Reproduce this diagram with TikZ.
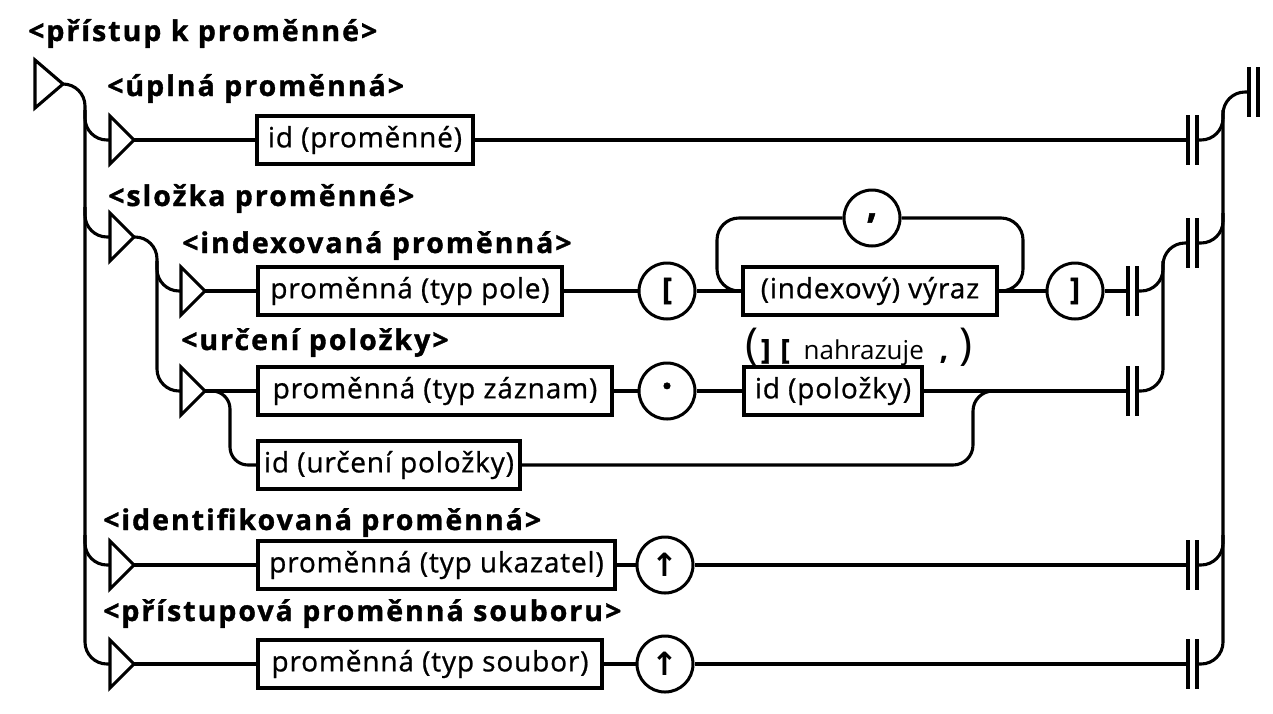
\documentclass[tikz,border=0pt]{standalone}
\usepackage{fontspec}
\setmainfont{Open Sans}
\newfontfamily\hdfont[LetterSpace=7,FakeBold=1.2]{Open Sans}
\newfontfamily\bxfont[LetterSpace=3,FakeBold=0.8]{Open Sans}
\newfontfamily\arrfont{DejaVu Sans}
\newcommand\syntri[4]{%
  \draw[ln, line join=miter] (#2,#3-24) -- (#2+#4,#3) -- (#2,#3+24) -- cycle;
  \coordinate (#1-in) at (#2,#3);
  \coordinate (#1-out) at (#2+#4,#3);}
\newcommand\synbar[3]{%
  \draw[barln] (#2,#3-25) -- (#2,#3+25) (#2+9,#3-25) -- (#2+9,#3+25);
  \coordinate (#1-in) at (#2,#3);
  \coordinate (#1-out) at (#2+9,#3);}
\begin{document}
\begin{tikzpicture}[x=1pt,y=-1pt,
  ln/.style={line width=3.1pt},
  barln/.style={line width=3.2pt},
  rc/.style={ln, rounded corners=22pt},
  hd/.style={font=\hdfont\bfseries\fontsize{28.5}{32}\selectfont, inner sep=0pt, anchor=base west},
  bx/.style={draw, line width=3.2pt, minimum height=48pt, inner sep=1pt, font=\bxfont\fontsize{28}{32}\selectfont},
  term/.style={draw, circle, line width=3pt, minimum size=56pt, inner sep=0pt, font=\hdfont\bfseries\fontsize{30}{34}\selectfont},
]
\useasboundingbox (0,0) rectangle (1273,713);

% labels
\node[hd] (l0) at (28,41) {<přístup k proměnné>};
\node[hd] (l1) at (107,96) {<úplná proměnná>};
\node[hd] (l2) at (108,206) {<složka proměnné>};
\node[hd] (l3) at (182,253) {<indexovaná proměnná>};
\node[hd] (l4) at (181,350) {<určení položky>};
\node[hd] (l5) at (103,530) {<identifikovaná proměnná>};
\node[hd] (l6) at (103,621) {<přístupová proměnná souboru>};

% triangles
\syntri{t0}{35}{84}{28}
\syntri{t1}{110}{140}{24}
\syntri{t2}{110}{237}{24}
\syntri{t3}{181}{291}{24}
\syntri{t4}{181}{391}{24}
\syntri{t5}{110}{565}{24}
\syntri{t6}{110}{664}{24}

% boxes
\node[bx, minimum width=216pt] (b1) at (365,140) {id (proměnné)};
\node[bx, minimum width=304pt] (b3) at (410,291) {proměnná (typ pole)};
\node[bx, minimum width=254pt] (b3b) at (870,291) {(indexový) výraz};
\node[bx, minimum width=354pt] (b4) at (435,391) {proměnná (typ záznam)};
\node[bx, minimum width=178pt] (b4b) at (833,391) {id (položky)};
\node[bx, minimum width=262pt] (b4c) at (389,465) {id (určení položky)};
\node[bx, minimum width=357pt] (b5) at (436.5,565) {proměnná (typ ukazatel)};
\node[bx, minimum width=344pt] (b6) at (430,664) {proměnná (typ soubor)};

% terminals
\node[term] (c3a) at (667,291) {[};
\node[term] (c3b) at (1075,291) {]};
\node[term, font=\hdfont\bfseries\fontsize{38}{40}\selectfont] (c3c) at (872,218) {,};
\node[term, font=\hdfont\bfseries\fontsize{38}{40}\selectfont] (c4) at (667,391) {·};
\node[term, font=\arrfont\bfseries\fontsize{32}{34}\selectfont] (c5) at (665,565) {↑};
\node[term, font=\arrfont\bfseries\fontsize{32}{34}\selectfont] (c6) at (665,664) {↑};

% note
\node[inner sep=0pt] (note) at (859,347) {\fontsize{44}{46}\selectfont(\hspace{3pt}{\hdfont\bfseries\fontsize{28}{30}\selectfont]\hspace{10pt}[}\hspace{14pt}{\fontsize{26}{28}\selectfont nahrazuje}\hspace{16pt}{\bxfont\bfseries\fontsize{28}{30}\selectfont,}\hspace{12pt})};

% bars
\synbar{r1}{1188}{140}
\synbar{r2}{1188}{243}
\synbar{r3}{1128}{291}
\synbar{r4}{1128}{391}
\synbar{r5}{1188}{565}
\synbar{r6}{1188}{664}
\synbar{rf}{1249}{92}

% left side
\draw[rc] (t0-out) -- (85,84) -- (85,664) -- (t6-in);
\draw[rc] (85,110) -- (85,140) -- (t1-in);
\draw[rc] (85,207) -- (85,237) -- (t2-in);
\draw[rc] (85,535) -- (85,565) -- (t5-in);
\draw[rc] (t2-out) -- (157,237) -- (157,391) -- (t4-in);
\draw[rc] (157,261) -- (157,291) -- (t3-in);

% row 1
\draw[ln] (t1-out) -- (b1) -- (r1-in);
% indexed
\draw[ln] (t3-out) -- (b3) -- (c3a) -- (b3b) -- (c3b) -- (r3-in);
\draw[rc] (b3b.west) -- (717,291) -- (717,218) -- (c3c);
\draw[rc] (c3c) -- (1023,218) -- (1023,291) -- (b3b.east);
% record
\draw[ln] (t4-out) -- (b4) -- (c4) -- (b4b) -- (r4-in);
\draw[rc, rounded corners=18pt] (t4-out) -- (230,391) -- (230,465) -- (b4c);
\draw[rc, rounded corners=20pt] (b4c) -- (973,465) -- (973,391) -- (1000,391);
% pointer, file
\draw[ln] (t5-out) -- (b5) -- (c5) -- (r5-in);
\draw[ln] (t6-out) -- (b6) -- (c6) -- (r6-in);

% right side
\draw[rc] (r6-out) -- (1223,664) -- (1223,92) -- (rf-in);
\draw[rc] (r1-out) -- (1223,140) -- (1223,110);
\draw[rc] (r2-out) -- (1223,243) -- (1223,213);
\draw[rc] (r5-out) -- (1223,565) -- (1223,535);
\draw[rc] (r4-out) -- (1163,391) -- (1163,243) -- (r2-in);
\draw[rc] (r3-out) -- (1163,291) -- (1163,261);
\end{tikzpicture}
\end{document}
